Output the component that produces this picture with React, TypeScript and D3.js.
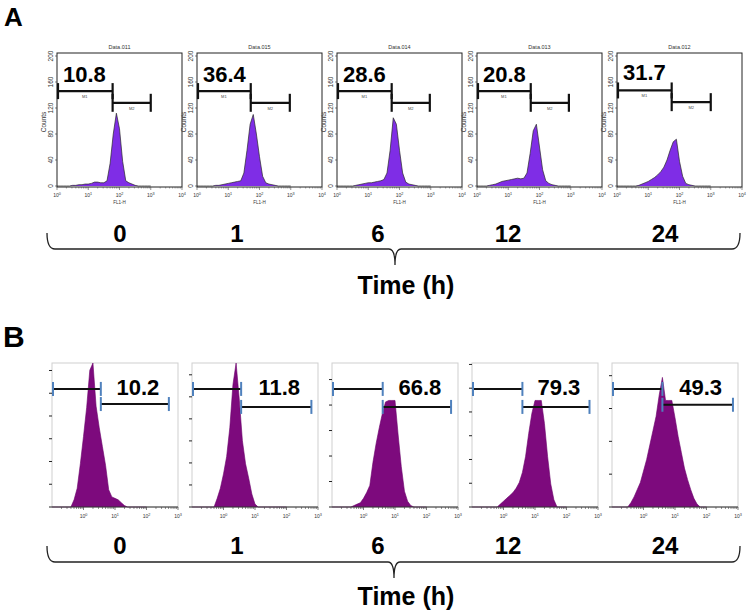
import React from 'react';
import * as d3 from 'd3';

// ---------- data ----------
const timeLabels = ['0', '1', '6', '12', '24'];
const titlesA = ['Data.011', 'Data.015', 'Data.014', 'Data.013', 'Data.012'];
const gatePctA = ['10.8', '36.4', '28.6', '20.8', '31.7'];
const gatePctB = ['10.2', '11.8', '66.8', '79.3', '49.3'];

// Panel A: log10(FL1-H) bin centres and counts
const binsA = [0.0, 0.1, 0.2, 0.3, 0.4, 0.5, 0.6, 0.7, 0.8, 0.9, 1.0, 1.1, 1.2, 1.3, 1.4, 1.5, 1.6, 1.7, 1.8, 1.9, 2.0, 2.1, 2.2, 2.3, 2.4, 2.5, 2.6, 2.7, 2.8, 2.9, 3.0];
const countsA0 = [0, 0, 0, 0, 0, 1, 1, 2, 2, 3, 3, 4, 6, 6, 5, 5, 8, 35, 80, 112, 88, 38, 8, 5, 3, 1, 0, 0, 0, 0, 0];
const countsA1 = [0, 0, 0, 0, 0, 0, 1, 1, 2, 3, 4, 5, 6, 7, 8, 20, 55, 95, 110, 80, 45, 15, 5, 3, 2, 1, 0, 0, 0, 0, 0];
const countsA2 = [0, 0, 0, 0, 0, 0, 1, 2, 3, 4, 5, 5, 6, 7, 8, 10, 20, 55, 105, 95, 55, 20, 6, 3, 2, 1, 0, 0, 0, 0, 0];
const countsA3 = [0, 0, 0, 0, 1, 2, 3, 5, 7, 8, 9, 10, 11, 12, 11, 12, 20, 50, 85, 95, 60, 25, 8, 4, 2, 1, 0, 0, 0, 0, 0];
const countsA4 = [0, 0, 0, 0, 0, 0, 0, 1, 3, 5, 7, 10, 13, 17, 22, 29, 40, 55, 68, 72, 38, 15, 4, 2, 1, 0, 0, 0, 0, 0, 0];
const countsA = [countsA0, countsA1, countsA2, countsA3, countsA4];

// Panel B: log10 bin centres and counts (% of frame height)
const binsB = [-1.0, -0.9, -0.8, -0.7, -0.6, -0.5, -0.4, -0.3, -0.2, -0.1, 0.0, 0.1, 0.2, 0.3, 0.4, 0.5, 0.6, 0.7, 0.8, 0.9, 1.0, 1.1, 1.2, 1.3, 1.4, 1.5, 1.6, 1.7, 1.8, 1.9, 2.0];
const countsB0 = [0, 0, 0, 0, 0, 0, 0, 5, 13, 30, 49, 69, 95, 100, 70, 55, 42, 29, 12, 7, 6, 5, 3, 1, 0, 0, 0, 0, 0, 0, 0];
const countsB1 = [0, 0, 0, 0, 0, 0, 0, 0, 6, 13, 23, 35, 55, 85, 100, 75, 46, 30, 20, 9, 2, 0, 0, 0, 0, 0, 0, 0, 0, 0, 0];
const countsB2 = [0, 0, 0, 0, 0, 0, 0, 1, 2, 3, 6, 10, 15, 31, 44, 55, 65, 73, 74, 74, 74, 50, 28, 11, 4, 1, 0, 0, 0, 0, 0];
const countsB3 = [0, 0, 0, 0, 0, 0, 0, 0, 0, 2, 4, 6, 8, 10, 13, 17, 24, 35, 51, 65, 74, 74, 74, 58, 35, 16, 5, 0, 0, 0, 0];
const countsB4 = [0, 0, 0, 0, 0, 0, 3, 7, 12, 17, 25, 33, 43, 53, 63, 78, 90, 74, 74, 74, 62, 49, 38, 27, 19, 12, 6, 2, 0, 0, 0];
const countsB = [countsB0, countsB1, countsB2, countsB3, countsB4];

// Gates (log10 units / count levels)
const gateM1EndA = [1.78, 1.72, 1.75, 1.72, 1.75];
const gateM2EndA = [3.0, 2.97, 2.97, 2.94, 3.0];
const gateM1LevelA = [146, 146, 146, 146, 147];
const gateM2LevelA = [128, 128, 128, 128, 129];
const gateSplitB = [0.55, 0.56, 0.61, 0.6, 0.6];
const gateEndB = [2.71, 2.79, 2.78, 2.73, 2.84];
const gateLeftLevelB = [82, 82, 82, 82, 82];
const gateRightLevelB = [71.5, 69.5, 69.5, 69.5, 71];

const yTicksA = [0, 40, 80, 120, 160, 200];
const yTickStepB = [15.8, 15.3, 17.7, 16.5, 22.8];
const decadesA = [0, 1, 2, 3, 4];
const decadesB = [0, 1, 2, 3];

// ---------- layout ----------
const FONT = "'Liberation Sans', Arial, Helvetica, sans-serif";
const A = { left: 57, step: 140, width: 125, top: 53, bottom: 187, zero: 186 };
const B = { left: 52, step: 140, width: 126, top: 363, bottom: 507 };
const timeX = [120, 237, 378, 508, 665];

function minorTicks(lo: number, hi: number) {
  const out: number[] = [];
  for (let k = lo; k < hi; k++) for (let m = 2; m <= 9; m++) out.push(k + Math.log10(m));
  return out;
}

function Sup({ x, y, exp, size }: { x: number; y: number; exp: number; size: number }) {
  return (
    <text x={x} y={y} fontSize={size} textAnchor="middle" fontFamily={FONT} fill="#333">
      10<tspan dy={-size * 0.45} fontSize={size * 0.75}>{exp}</tspan>
    </text>
  );
}

function FrameA({ i }: { i: number }) {
  const x0 = A.left + i * A.step;
  const x = d3.scaleLinear().domain([0, 4]).range([x0, x0 + A.width]);
  const y = d3.scaleLinear().domain([0, 200]).range([A.zero, A.top + 3]);
  const c = countsA[i];
  const area = d3.area<number>().x((_, j) => x(binsA[j])).y0(y(0)).y1((d) => y(d));
  const line = d3.line<number>().x((_, j) => x(binsA[j])).y((d) => y(d));
  const m1 = x(gateM1EndA[i]);
  const m2 = x(gateM2EndA[i]);
  const y1 = y(gateM1LevelA[i]);
  const y2 = y(gateM2LevelA[i]);
  return (
    <g>
      <text x={x0 + A.width / 2} y={A.top - 4} fontSize={5.5} textAnchor="middle" fontFamily={FONT} fill="#333">{titlesA[i]}</text>
      <path d={area(c) || ''} fill="#7f2de6" />
      <path d={line(c) || ''} fill="none" stroke="#2a2a2a" strokeWidth={0.7} />
      <rect x={x0} y={A.top} width={A.width} height={A.bottom - A.top} fill="none" stroke="#222" strokeWidth={1} />
      {yTicksA.map((t) => (
        <g key={t}>
          <line x1={x0 - 2} x2={x0} y1={y(t)} y2={y(t)} stroke="#333" strokeWidth={0.6} />
          <text transform={`translate(${x0 - 4},${y(t)}) rotate(-90)`} fontSize={6.5} textAnchor="middle" fontFamily={FONT} fill="#333">{t}</text>
        </g>
      ))}
      <text transform={`translate(${x0 - 11},${(A.top + A.bottom) / 2 + 2}) rotate(-90)`} fontSize={6.5} textAnchor="middle" fontFamily={FONT} fill="#333">Counts</text>
      {minorTicks(0, 4).map((t, k) => (
        <line key={k} x1={x(t)} x2={x(t)} y1={A.bottom} y2={A.bottom + 1.5} stroke="#444" strokeWidth={0.5} />
      ))}
      {decadesA.map((d) => (
        <g key={d}>
          <line x1={x(d)} x2={x(d)} y1={A.bottom} y2={A.bottom + 3} stroke="#444" strokeWidth={0.6} />
          <Sup x={x(d)} y={A.bottom + 10} exp={d} size={5} />
        </g>
      ))}
      <text x={x(2)} y={A.bottom + 17} fontSize={4.5} textAnchor="middle" fontFamily={FONT} fill="#333">FL1-H</text>
      {/* gates */}
      <line x1={x(0)} x2={m1} y1={y1} y2={y1} stroke="#111" strokeWidth={2.2} />
      <line x1={x(0) + 1} x2={x(0) + 1} y1={y1 - 8} y2={y1 + 8} stroke="#111" strokeWidth={2.2} />
      <line x1={m1} x2={m1} y1={y1 - 8} y2={y1 + 8} stroke="#111" strokeWidth={2.2} />
      <text x={(x(0) + m1) / 2} y={y1 + 7} fontSize={4} textAnchor="middle" fontFamily={FONT} fill="#444">M1</text>
      <line x1={m1} x2={m2} y1={y2} y2={y2} stroke="#111" strokeWidth={2.2} />
      <line x1={m1} x2={m1} y1={y2 - 9} y2={y2 + 9} stroke="#111" strokeWidth={2.2} />
      <line x1={m2} x2={m2} y1={y2 - 9} y2={y2 + 9} stroke="#111" strokeWidth={2.2} />
      <text x={(m1 + m2) / 2} y={y2 + 7} fontSize={4} textAnchor="middle" fontFamily={FONT} fill="#444">M2</text>
      <text x={x0 + 6} y={i === 4 ? 80 : 82} fontSize={22} fontWeight="bold" fontFamily={FONT} fill="#000">{gatePctA[i]}</text>
    </g>
  );
}

function FrameB({ i }: { i: number }) {
  const x0 = B.left + i * B.step;
  const x = d3.scaleLinear().domain([-1, 3]).range([x0, x0 + B.width]);
  const y = d3.scaleLinear().domain([0, 100]).range([B.bottom, B.top]);
  const c = countsB[i];
  const area = d3.area<number>().x((_, j) => x(binsB[j])).y0(y(0)).y1((d) => y(d));
  const line = d3.line<number>().x((_, j) => x(binsB[j])).y((d) => y(d));
  const ticks = d3.range(0, 100.01, yTickStepB[i]);
  const s = x(gateSplitB[i]);
  const e = x(gateEndB[i]);
  const yl = y(gateLeftLevelB[i]);
  const yr = y(gateRightLevelB[i]);
  const blue = '#4f81bd';
  return (
    <g>
      <rect x={x0} y={B.top} width={B.width} height={B.bottom - B.top} fill="#fff" stroke="#cfcfcf" strokeWidth={1} />
      <path d={area(c) || ''} fill="#7d0a7d" />
      <path d={line(c) || ''} fill="none" stroke="#6a006a" strokeWidth={0.6} />
      {ticks.map((t, k) => (
        <line key={k} x1={x0 - 3} x2={x0} y1={y(t)} y2={y(t)} stroke="#222" strokeWidth={1} />
      ))}
      <line x1={x0} x2={x0 + B.width} y1={B.bottom} y2={B.bottom} stroke="#333" strokeWidth={1} />
      {minorTicks(-1, 3).map((t, k) => (
        <line key={k} x1={x(t)} x2={x(t)} y1={B.bottom} y2={B.bottom + 2} stroke="#444" strokeWidth={0.6} />
      ))}
      {decadesB.map((d) => (
        <g key={d}>
          <line x1={x(d)} x2={x(d)} y1={B.bottom} y2={B.bottom + 3} stroke="#444" strokeWidth={0.7} />
          <Sup x={x(d)} y={B.bottom + 11} exp={d} size={5} />
        </g>
      ))}
      {/* gates */}
      <line x1={x(-1)} x2={s} y1={yl} y2={yl} stroke="#111" strokeWidth={2} />
      <line x1={x(-1) + 1} x2={x(-1) + 1} y1={yl - 7} y2={yl + 7} stroke={blue} strokeWidth={2} />
      <line x1={s} x2={s} y1={yl - 7} y2={yl + 7} stroke={blue} strokeWidth={2} />
      <line x1={s} x2={e} y1={yr} y2={yr} stroke="#111" strokeWidth={2} />
      <line x1={s} x2={s} y1={yr - 7} y2={yr + 7} stroke={blue} strokeWidth={2} />
      <line x1={e} x2={e} y1={yr - 7} y2={yr + 7} stroke={blue} strokeWidth={2} />
      <text x={(s + e) / 2 + 3} y={395} fontSize={22} fontWeight="bold" textAnchor="middle" fontFamily={FONT} fill="#000">{gatePctB[i]}</text>
    </g>
  );
}

function Brace({ y, x1, x2, tip }: { y: number; x1: number; x2: number; tip: number }) {
  const p = d3.path();
  p.moveTo(x1, y - 16);
  p.quadraticCurveTo(x1, y, x1 + 8, y);
  p.lineTo(tip - 6, y);
  p.quadraticCurveTo(tip, y, tip, y + 16);
  p.moveTo(tip, y + 16);
  p.quadraticCurveTo(tip, y, tip + 6, y);
  p.lineTo(x2 - 8, y);
  p.quadraticCurveTo(x2, y, x2, y - 16);
  return <path d={p.toString()} fill="none" stroke="#222" strokeWidth={1.3} />;
}

export default function App() {
  return (
    <svg width={747} height={612} style={{ display: 'block', position: 'absolute', left: 0, top: 0, background: '#fff' }}>
      <rect width={747} height={612} fill="#fff" />
      <text x={4} y={26} fontSize={26} fontWeight="bold" fontFamily={FONT}>A</text>
      <text x={3} y={347} fontSize={30} fontWeight="bold" fontFamily={FONT}>B</text>
      {timeLabels.map((_, i) => <FrameA key={'a' + i} i={i} />)}
      {timeLabels.map((_, i) => <FrameB key={'b' + i} i={i} />)}
      {timeLabels.map((t, i) => (
        <text key={'ta' + i} x={timeX[i]} y={242} fontSize={24} fontWeight="bold" textAnchor="middle" fontFamily={FONT}>{t}</text>
      ))}
      {timeLabels.map((t, i) => (
        <text key={'tb' + i} x={timeX[i]} y={554} fontSize={24} fontWeight="bold" textAnchor="middle" fontFamily={FONT}>{t}</text>
      ))}
      <Brace y={249} x1={47} x2={740} tip={395} />
      <Brace y={562} x1={47} x2={740} tip={394} />
      <text x={406} y={294} fontSize={25} fontWeight="bold" textAnchor="middle" fontFamily={FONT}>Time (h)</text>
      <text x={406} y={605} fontSize={25} fontWeight="bold" textAnchor="middle" fontFamily={FONT}>Time (h)</text>
    </svg>
  );
}
